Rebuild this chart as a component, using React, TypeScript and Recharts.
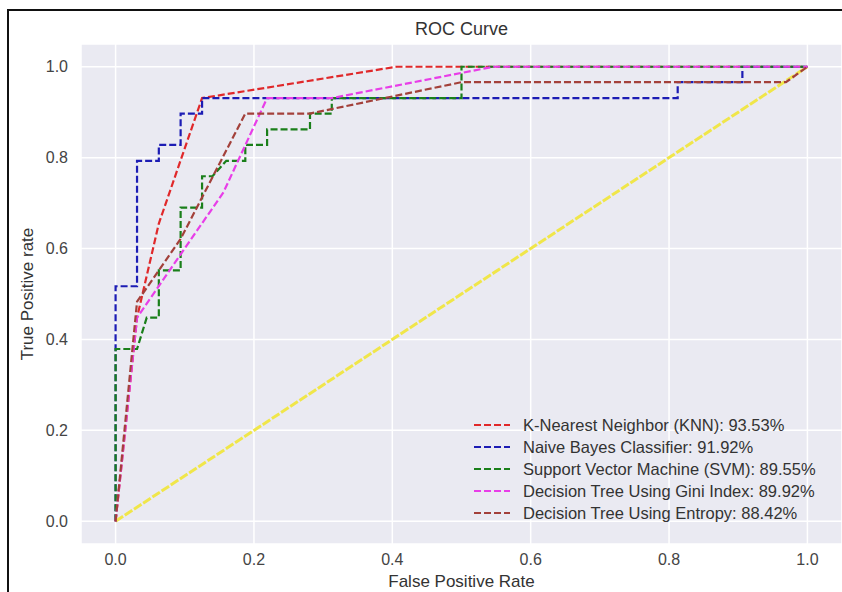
import React from 'react';
import { LineChart, Line, XAxis, YAxis, CartesianGrid } from 'recharts';

// tick values shared by both axes
const axisTicks = [0, 0.2, 0.4, 0.6, 0.8, 1.0];

// ROC points (fpr / tpr pairs)
const knnFpr = [0, 0.031, 0.0625, 0.125, 0.406, 1];
const knnTpr = [0, 0.448, 0.655, 0.931, 1, 1];

const nbFpr = [0, 0, 0.031, 0.031, 0.0625, 0.0625, 0.094, 0.094, 0.125, 0.125, 0.8125, 0.8125, 0.906, 0.906, 1];
const nbTpr = [0, 0.517, 0.517, 0.793, 0.793, 0.828, 0.828, 0.897, 0.897, 0.931, 0.931, 0.966, 0.966, 1, 1];

const svmFpr = [0, 0, 0.031, 0.045, 0.0625, 0.0625, 0.094, 0.094, 0.125, 0.125, 0.14, 0.16, 0.1875, 0.1875, 0.219, 0.219, 0.281, 0.281, 0.3125, 0.3125, 0.5, 0.5, 1];
const svmTpr = [0, 0.379, 0.379, 0.448, 0.448, 0.552, 0.552, 0.69, 0.69, 0.759, 0.759, 0.793, 0.793, 0.828, 0.828, 0.862, 0.862, 0.897, 0.897, 0.931, 0.931, 1, 1];

const giniFpr = [0, 0.031, 0.156, 0.219, 0.3125, 0.546, 1];
const giniTpr = [0, 0.448, 0.724, 0.931, 0.931, 1, 1];

const entropyFpr = [0, 0.031, 0.094, 0.1875, 0.281, 0.5, 0.969, 1];
const entropyTpr = [0, 0.483, 0.621, 0.897, 0.897, 0.966, 0.966, 1];

const chanceFpr = [0, 1];
const chanceTpr = [0, 1];

const toPoints = (fpr: number[], tpr: number[]) =>
  fpr.map((x, i) => ({ x, y: tpr[i] }));

const SERIES = [
  { name: 'K-Nearest Neighbor (KNN): 93.53%', color: '#e0282a', fpr: knnFpr, tpr: knnTpr },
  { name: 'Naive Bayes Classifier: 91.92%', color: '#1c1cb4', fpr: nbFpr, tpr: nbTpr },
  { name: 'Support Vector Machine (SVM): 89.55%', color: '#1a7f1a', fpr: svmFpr, tpr: svmTpr },
  { name: 'Decision Tree Using Gini Index: 89.92%', color: '#e83ee8', fpr: giniFpr, tpr: giniTpr },
  { name: 'Decision Tree Using Entropy: 88.42%', color: '#a3403a', fpr: entropyFpr, tpr: entropyTpr },
];

const FONT = '"Liberation Sans", Arial, sans-serif';
const TEXT = '#333';

export default function App() {
  return (
    <div
      style={{
        position: 'absolute',
        left: 0,
        top: 0,
        width: 842,
        height: 592,
        overflow: 'hidden',
        background: '#fff',
        fontFamily: FONT,
      }}
    >
      {/* black frame around the figure (left + top visible) */}
      <div
        style={{
          position: 'absolute',
          left: 7,
          top: 9,
          width: 900,
          height: 700,
          borderLeft: '2px solid #111',
          borderTop: '2px solid #111',
        }}
      />
      <div style={{ position: 'absolute', left: 0, top: 0 }}>
        <LineChart width={842} height={592} margin={{ top: 44, right: 0, bottom: 18, left: 21 }}>
          <CartesianGrid stroke="#ffffff" strokeWidth={1.5} fill="#eaeaf2" fillOpacity={1} />
          <XAxis
            type="number"
            dataKey="x"
            domain={[-0.05, 1.05]}
            ticks={axisTicks}
            tickFormatter={(v: number) => v.toFixed(1)}
            axisLine={false}
            tickLine={false}
            tickSize={0}
            tickMargin={10}
            height={30}
            tick={{ fill: '#444', fontSize: 16, fontFamily: FONT }}
            allowDataOverflow
          />
          <YAxis
            type="number"
            dataKey="y"
            domain={[-0.05, 1.05]}
            ticks={axisTicks}
            tickFormatter={(v: number) => v.toFixed(1)}
            axisLine={false}
            tickLine={false}
            tickSize={0}
            tickMargin={13}
            width={60}
            tick={{ fill: '#444', fontSize: 16, fontFamily: FONT }}
            allowDataOverflow
          />
          <Line
            data={toPoints(chanceFpr, chanceTpr)}
            dataKey="y"
            type="linear"
            stroke="#f0e64a"
            strokeWidth={3}
            strokeDasharray="9 2"
            dot={false}
            isAnimationActive={false}
          />
          {SERIES.map((s) => (
            <Line
              key={s.name}
              data={toPoints(s.fpr, s.tpr)}
              dataKey="y"
              name={s.name}
              type="linear"
              stroke={s.color}
              strokeWidth={2.2}
              strokeDasharray="7 3"
              dot={false}
              isAnimationActive={false}
            />
          ))}
        </LineChart>
      </div>

      <div
        style={{
          position: 'absolute',
          left: 81,
          width: 761,
          top: 19,
          textAlign: 'center',
          fontSize: 18,
          color: TEXT,
        }}
      >
        ROC Curve
      </div>
      <div
        style={{
          position: 'absolute',
          left: 81,
          width: 761,
          top: 572,
          textAlign: 'center',
          fontSize: 17,
          color: TEXT,
        }}
      >
        False Positive Rate
      </div>
      <div
        style={{
          position: 'absolute',
          left: 28,
          top: 294,
          transform: 'translate(-50%, -50%) rotate(-90deg)',
          whiteSpace: 'nowrap',
          fontSize: 17,
          color: TEXT,
        }}
      >
        True Positive rate
      </div>

      {/* legend */}
      <div style={{ position: 'absolute', left: 474, top: 414 }}>
        {SERIES.map((s) => (
          <div key={s.name} style={{ display: 'flex', alignItems: 'center', height: 22 }}>
            <svg width={36} height={10} style={{ marginRight: 13 }}>
              <line x1={0} y1={5} x2={36} y2={5} stroke={s.color} strokeWidth={2.2} strokeDasharray="7 3" />
            </svg>
            <span style={{ fontSize: 16.5, color: TEXT, whiteSpace: 'nowrap' }}>{s.name}</span>
          </div>
        ))}
      </div>
    </div>
  );
}
